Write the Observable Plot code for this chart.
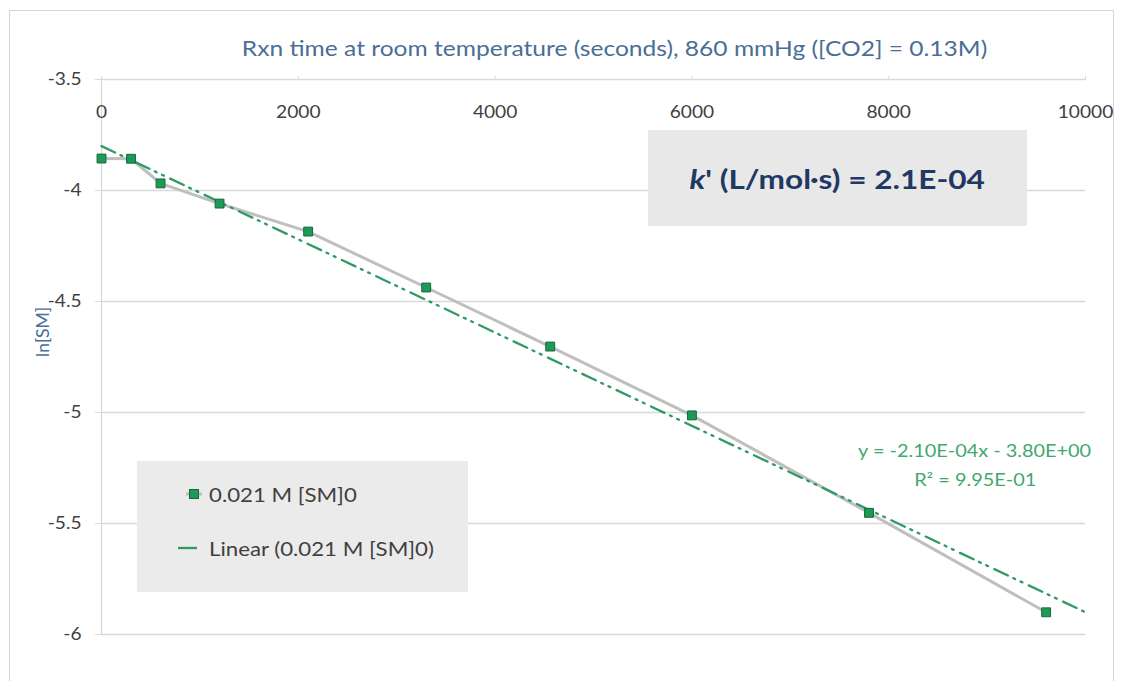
<!DOCTYPE html>
<html>
<head>
<meta charset="utf-8">
<script src="https://cdn.jsdelivr.net/npm/d3@7"></script>
<script src="https://cdn.jsdelivr.net/npm/@observablehq/plot@0.6"></script>
<style>
  html, body { margin: 0; padding: 0; background: #fff; overflow: hidden; }
  #wrap { position: relative; width: 1123px; height: 681px; font-family: Lato, "Open Sans", sans-serif; }
  #frame { position: absolute; left: 9px; top: 10px; width: 1105px; height: 690px; border: 1px solid #d4d4d4; box-sizing: border-box; }
  #chart { position: absolute; left: 0; top: 0; }
  .ov { position: absolute; }
  .sx { display: inline-block; transform: scaleX(1.17); white-space: nowrap; }
  #title { left: 215px; width: 800px; top: 34px; text-align: center; color: #4a6e96; font-size: 21px; line-height: 28px; }
  #title .sx { transform-origin: center; }
  #kbox { left: 648px; top: 130px; width: 379px; height: 96px; background: #e8e8e8; display: flex; align-items: center; justify-content: center; color: #1f3864; font-weight: bold; font-size: 27px; }
  #kbox .sx { transform-origin: center; }
  #legend { left: 137px; top: 461px; width: 331px; height: 131px; background: #ebebeb; color: #404040; font-size: 19px; }
  .li { position: absolute; left: 36px; display: flex; align-items: center; height: 24px; }
  .li .sx { transform-origin: left center; margin-left: 4px; }
  #eq { left: 805px; width: 340px; top: 436px; text-align: center; color: #3fa86c; font-size: 17px; line-height: 29px; }
  #eq .sx { transform-origin: center; }
</style>
</head>
<body>
<div id="wrap">
  <div id="frame"></div>
  <div id="chart"></div>
  <div class="ov" id="title"></div>
  <div class="ov" id="kbox"></div>
  <div class="ov" id="legend"></div>
  <div class="ov" id="eq"></div>
</div>
<script>
// ---- data ----
const timeS = [0, 300, 600, 1200, 2100, 3300, 4560, 6000, 7800, 9600];
const lnSM  = [-3.856, -3.857, -3.968, -4.059, -4.185, -4.437, -4.703, -5.013, -5.452, -5.900];
const xTicks = [0, 2000, 4000, 6000, 8000, 10000];
const yTicks = [-3.5, -4, -4.5, -5, -5.5, -6];
const fitSlope = -2.10e-4;
const fitIntercept = -3.80;
const fitRange = [0, 10000];
const seriesName = "0.021 M [SM]0";
const titleText = "Rxn time at room temperature (seconds), 860 mmHg ([CO2] = 0.13M)";
const yLabel = "ln[SM]";
const kText = ["k", "' (L/mol·s) = 2.1E-04"];
const eqLines = ["y = -2.10E-04x - 3.80E+00", "R² = 9.95E-01"];

const points = timeS.map((t, i) => ({t, v: lnSM[i]}));
const fit = fitRange.map(t => ({t, v: fitSlope * t + fitIntercept}));

const gridColor = "#d9d9d9";
const chart = Plot.plot({
  width: 1123, height: 681,
  marginLeft: 101, marginRight: 38, marginTop: 79, marginBottom: 47,
  x: {domain: [0, 10000]},
  y: {domain: [-6, -3.5]},
  style: {fontFamily: "Lato, 'Open Sans', sans-serif", fontSize: "16px", color: "#404040", background: "transparent", overflow: "visible"},
  marks: [
    Plot.gridY(yTicks, {stroke: gridColor, strokeOpacity: 1, strokeWidth: 1.3}),
    Plot.ruleX([0], {stroke: gridColor, strokeWidth: 1.3}),
    Plot.axisY(yTicks, {tickSize: 6, tickPadding: 14, stroke: gridColor, fill: "#404040", label: null, tickFormat: d => String(d), fontSize: 16.5}),
    Plot.axisX(xTicks, {anchor: "top", tickSize: 4, stroke: gridColor, tickFormat: () => "", label: null}),
    Plot.text(xTicks, {x: d => d, frameAnchor: "top", dy: 27, text: d => String(d), fill: "#404040", fontSize: 16.5}),
    Plot.text([yLabel], {frameAnchor: "left", dx: -58, rotate: -90, fill: "#4a6e96", fontSize: 17.5}),
    Plot.line(points, {x: "t", y: "v", stroke: "#bfbfbf", strokeWidth: 3}),
    Plot.line(fit, {x: "t", y: "v", stroke: "#2f9a66", strokeWidth: 2.3, strokeDasharray: "15,6,2,6,2,7"}),
    Plot.dot(points, {x: "t", y: "v", symbol: "square", r: 5, fill: "#1f9a56", stroke: "#12683a", strokeWidth: 1})
  ]
});
document.getElementById("chart").appendChild(chart);

// widen tick label glyphs horizontally to match the reference's proportions
const SX = 1.16;
chart.querySelectorAll("text").forEach(el => {
  if (el.textContent === yLabel) return;
  const tr = el.getAttribute("transform");
  if (tr) {
    el.setAttribute("transform", tr + ` scale(${SX},1)`);
  } else {
    const x = +el.getAttribute("x") || 0, y = +el.getAttribute("y") || 0;
    el.setAttribute("transform", `translate(${x},${y}) scale(${SX},1) translate(${-x},${-y})`);
  }
});

document.getElementById("title").innerHTML = `<span class="sx">${titleText}</span>`;
document.getElementById("kbox").innerHTML = `<span class="sx"><i>${kText[0]}</i>${kText[1]}</span>`;
document.getElementById("eq").innerHTML = eqLines.map(s => `<div><span class="sx">${s}</span></div>`).join("");

const legend = document.getElementById("legend");
legend.innerHTML = `
  <div class="li" style="top:21px"><svg width="32" height="20"><line x1="13" x2="29" y1="10" y2="10" stroke="#bfbfbf" stroke-width="3"/><rect x="16.5" y="5.5" width="9" height="9" fill="#1f9a56" stroke="#12683a"/></svg><span class="sx">${seriesName}</span></div>
  <div class="li" style="top:75px"><svg width="32" height="20"><line x1="5" x2="24" y1="10" y2="10" stroke="#2f9a66" stroke-width="2.3"/></svg><span class="sx">Linear (${seriesName})</span></div>`;
</script>
</body>
</html>
